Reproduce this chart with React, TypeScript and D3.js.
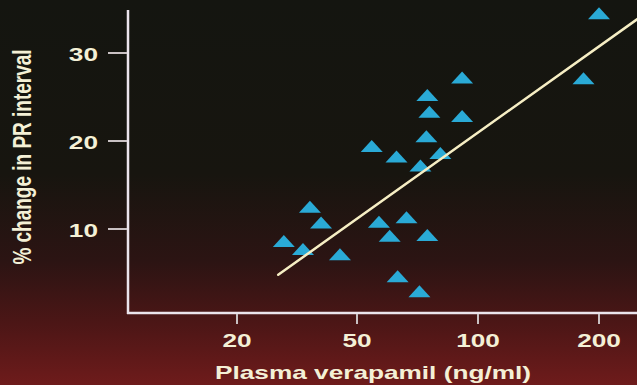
import React, { useEffect, useRef } from "react";
import * as d3 from "d3";

// plasma verapamil (ng/ml) vs % change in PR interval
const verapamil = [
  28.6, 33.1, 34.9, 38.0, 43.9, 54.4, 56.7, 60.3, 62.7, 66.4, 63.1,
  71.5, 71.9, 74.8, 75.7, 74.4, 80.6, 74.8, 91.3, 91.3, 183, 200,
];
const prChange = [
  8.4, 7.5, 12.3, 10.5, 6.9, 19.2, 10.6, 9.0, 18.0, 11.1, 4.4,
  2.7, 17.0, 25.0, 23.1, 20.3, 18.4, 9.1, 27.0, 22.6, 26.9, 34.3,
];

// fitted line end points
const fitX = [27.4, 250];
const fitY = [4.8, 33.9];

const xTicks = [20, 50, 100, 200];
const yTicks = [10, 20, 30];

const W = 637;
const H = 385;
const STRETCH = 1.38; // slide text is wide
const FONT = "'Liberation Sans', Arial, sans-serif";
const TEXT_COL = "#f4f0d6";
const AXIS_COL = "#ebe4ec";

const App = () => {
  const ref = useRef<SVGSVGElement | null>(null);

  useEffect(() => {
    const svg = d3.select(ref.current);
    svg.selectAll("*").remove();

    const x = d3.scaleLog().domain(xTicks).range([237, 357, 478, 599]);
    const y = d3.scaleLinear().domain([0, 30]).range([317, 53]);

    const defs = svg.append("defs");
    const grad = defs
      .append("linearGradient")
      .attr("id", "bg")
      .attr("x1", "0%")
      .attr("x2", "0%")
      .attr("y1", "0%")
      .attr("y2", "100%");
    [
      [0, "#141510"],
      [0.45, "#17150f"],
      [0.68, "#2c1413"],
      [0.84, "#4c1616"],
      [1, "#6e1b1b"],
    ].forEach(([o, c]) => grad.append("stop").attr("offset", o as number).attr("stop-color", c as string));

    svg.append("rect").attr("width", W).attr("height", H).attr("fill", "url(#bg)");

    // axes
    svg.append("line")
      .attr("x1", 128).attr("x2", 128).attr("y1", 10).attr("y2", 314)
      .attr("stroke", AXIS_COL).attr("stroke-width", 2.5);
    svg.append("line")
      .attr("x1", 127).attr("x2", W).attr("y1", 313).attr("y2", 313)
      .attr("stroke", AXIS_COL).attr("stroke-width", 2.5);

    // y ticks
    const yt = svg.append("g");
    yTicks.forEach((t) => {
      yt.append("line")
        .attr("x1", 108).attr("x2", 127).attr("y1", y(t)).attr("y2", y(t))
        .attr("stroke", "#c9c1c3").attr("stroke-width", 2);
      yt.append("text")
        .attr("transform", `translate(98,${y(t)}) scale(${STRETCH},1)`)
        .attr("dy", "0.42em")
        .attr("text-anchor", "end")
        .attr("font-family", FONT)
        .attr("font-weight", "bold")
        .attr("font-size", 19)
        .attr("fill", TEXT_COL)
        .text(t);
    });

    // x ticks
    const xt = svg.append("g");
    xTicks.forEach((t) => {
      xt.append("line")
        .attr("x1", x(t)).attr("x2", x(t)).attr("y1", 314).attr("y2", 324)
        .attr("stroke", "#c9c1c3").attr("stroke-width", 2);
      xt.append("text")
        .attr("transform", `translate(${x(t)},347) scale(${STRETCH},1)`)
        .attr("text-anchor", "middle")
        .attr("font-family", FONT)
        .attr("font-weight", "bold")
        .attr("font-size", 19)
        .attr("fill", TEXT_COL)
        .text(t);
    });

    // axis titles
    svg.append("text")
      .attr("transform", `translate(373,379) scale(${STRETCH},1)`)
      .attr("text-anchor", "middle")
      .attr("font-family", FONT)
      .attr("font-weight", "bold")
      .attr("font-size", 19)
      .attr("fill", TEXT_COL)
      .text("Plasma verapamil (ng/ml)");

    svg.append("text")
      .attr("transform", `translate(31,157) scale(${STRETCH},1) rotate(-90)`)
      .attr("text-anchor", "middle")
      .attr("font-family", FONT)
      .attr("font-weight", "bold")
      .attr("font-size", 19)
      .attr("fill", TEXT_COL)
      .text("% change in PR interval");

    // points
    const pts = verapamil.map((v, i) => [v, prChange[i]]);
    svg.append("g")
      .selectAll("path")
      .data(pts)
      .enter()
      .append("path")
      .attr("d", "M0,-8L11,4L-11,4Z")
      .attr("transform", (d) => `translate(${x(d[0])},${y(d[1])})`)
      .attr("fill", "#2aaad6");

    // regression line
    const line = d3.line<number>()
      .x((d) => x(d))
      .y((_, i) => y(fitY[i]));
    svg.append("path")
      .attr("d", line(fitX))
      .attr("fill", "none")
      .attr("stroke", "#f6eec4")
      .attr("stroke-width", 2.5)
      .attr("stroke-linecap", "round");
  }, []);

  return (
    <div style={{ position: "fixed", left: 0, top: 0 }}>
      <svg ref={ref} width={W} height={H} style={{ display: "block" }} />
    </div>
  );
};

export default App;
